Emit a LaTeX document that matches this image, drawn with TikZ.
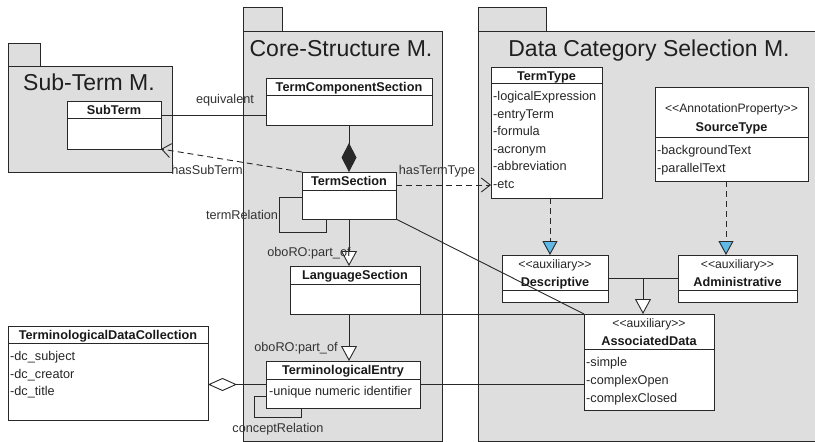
\documentclass[tikz,border=0pt]{standalone}
\usepackage{fontspec}
\setmainfont{Liberation Sans}
\usetikzlibrary{arrows.meta,calc}
\definecolor{pkgfill}{RGB}{222,222,222}
\definecolor{edgec}{RGB}{40,40,40}
\definecolor{realblue}{RGB}{95,185,230}
\newcommand\umlcls[6]{%
  \node[cls,minimum width=#4pt,minimum height=#5pt] (#1) at (#2,#3) {};
  \draw[clsline] ([yshift=-#6pt]#1.north west) -- ([yshift=-#6pt]#1.north east);}
\newcommand\umlpkg[5]{%
  \node[pkg,minimum width=#4pt,minimum height=#5pt] (#1) at (#2,#3) {};}
\tikzset{
  pkg/.style={draw=edgec,fill=pkgfill,line width=0.9pt,anchor=north west,inner sep=0pt,outer sep=0pt},
  cls/.style={draw=edgec,fill=white,line width=0.9pt,anchor=north west,inner sep=0pt,outer sep=0pt},
  clsline/.style={draw=edgec,line width=0.9pt},
  ptitle/.style={font=\fontsize{23}{26}\selectfont,inner sep=0pt,text=black!88,text height=16.5pt,text depth=0pt},
  txt/.style={inner sep=0pt,text height=9.2pt,text depth=0pt},
  bname/.style={txt,font=\fontsize{12.7}{15}\selectfont\bfseries,text=black!90},
  stereo/.style={txt,font=\fontsize{12.2}{15}\selectfont,text=black!85},
  attr/.style={txt,font=\fontsize{12.7}{15}\selectfont,anchor=west,text=black!85},
  lbl/.style={txt,font=\fontsize{12.7}{15}\selectfont,text=black!80},
  conn/.style={draw=edgec,line width=0.9pt},
  dep/.style={conn,dash pattern=on 6pt off 4pt},
  vhead/.style={-{Straight Barb[length=9pt,width=14pt,line width=0.9pt]}},
  trihead/.style={-{Triangle[open,fill=white,length=15pt,width=16pt,line width=0.9pt]}},
  realhead/.style={-{Triangle[fill=realblue,length=14pt,width=15pt,line width=0.9pt]}},
}
\begin{document}
\begin{tikzpicture}[x=1pt,y=-1pt]
\path[use as bounding box] (0,0) rectangle (815,442);
\clip (0,0) rectangle (815,442);
\fill[white] (0,0) rectangle (815,442);

% packages
\umlpkg{subTab}{8}{43}{32}{23}
\umlpkg{subPkg}{8}{66}{164}{106}
\umlpkg{coreTab}{243}{7}{39}{24}
\umlpkg{corePkg}{243}{31}{199}{410}
\umlpkg{dcsTab}{478}{7}{68}{24}
\umlpkg{dcsPkg}{478}{31}{345}{410}
\node[ptitle] (tSub) at (89,82) {Sub-Term M.};
\node[ptitle] (tCore) at (341,48) {Core-Structure M.};
\node[ptitle] (tDcs) at (649,48) {Data Category Selection M.};

% classes
\umlcls{ST}{67}{101}{94}{48}{17}
\node[bname] (nST) at (114,110) {SubTerm};

\umlcls{TCS}{266}{78}{166}{47}{17}
\node[bname] (nTCS) at (349,87) {TermComponentSection};

\umlcls{TS}{302}{172}{94}{47}{18}
\node[bname] (nTS) at (349,181) {TermSection};

\umlcls{LS}{290}{266}{130}{48}{18}
\node[bname] (nLS) at (355,275) {LanguageSection};

\umlcls{TE}{266}{361}{154}{47}{18}
\node[bname] (nTE) at (343,370) {TerminologicalEntry};
\node[attr] (aTE) at (269,391) {-unique numeric identifier};

\umlcls{TDC}{8}{326}{200}{94}{17}
\node[bname] (nTDC) at (108,335) {TerminologicalDataCollection};
\node[attr] (aTDC1) at (10,356) {-dc\_subject};
\node[attr] (aTDC2) at (10,373.5) {-dc\_creator};
\node[attr] (aTDC3) at (10,391) {-dc\_title};

\umlcls{TT}{491}{67}{111}{131}{16}
\node[bname] (nTT) at (546.5,76) {TermType};
\node[attr] (aTT1) at (493,96) {-logicalExpression};
\node[attr] (aTT2) at (493,113.5) {-entryTerm};
\node[attr] (aTT3) at (493,131) {-formula};
\node[attr] (aTT4) at (493,148.5) {-acronym};
\node[attr] (aTT5) at (493,166) {-abbreviation};
\node[attr] (aTT6) at (493,183.5) {-etc};

\umlcls{SRC}{655}{87}{153}{94}{50}
\node[stereo] (sSRC) at (731.5,108) {<{}<AnnotationProperty>{}>};
\node[bname] (nSRC) at (731.5,127) {SourceType};
\node[attr] (aSRC1) at (657,150) {-backgroundText};
\node[attr] (aSRC2) at (657,167.5) {-parallelText};

\umlcls{DESC}{502}{255}{106}{47}{35}
\node[stereo] (sDESC) at (555,264) {<{}<auxiliary>{}>};
\node[bname] (nDESC) at (555,282) {Descriptive};

\umlcls{ADM}{678}{255}{119}{47}{35}
\node[stereo] (sADM) at (737.5,264) {<{}<auxiliary>{}>};
\node[bname] (nADM) at (737.5,282) {Administrative};

\umlcls{AD}{584}{314}{130}{96}{35}
\node[stereo] (sAD) at (649,323) {<{}<auxiliary>{}>};
\node[bname] (nAD) at (649,341) {AssociatedData};
\node[attr] (aAD1) at (586,362) {-simple};
\node[attr] (aAD2) at (586,380) {-complexOpen};
\node[attr] (aAD3) at (586,397.5) {-complexClosed};

% connectors
\coordinate (eqA) at ([yshift=-14pt]ST.north east);
\draw[conn] (eqA) -- (eqA -| TCS.west);
\node[lbl] (lEq) at (225,99) {equivalent};

\draw[dep,vhead] (TS.north west) -- (ST.south east);
\node[lbl] (lSub) at (207,170) {hasSubTerm};

\coordinate (htA) at ([yshift=-13pt]TS.north east);
\draw[dep,vhead] (htA) -- (htA -| TT.west);
\node[lbl] (lHt) at (437,170) {hasTermType};

\draw[conn,-{Diamond[length=29pt,width=15pt]}] (TCS.south) -- (TS.north);

\draw[conn] ([yshift=-25pt]TS.north west) -- ++(-23,0) -- ++(0,35) -| ([xshift=24pt]TS.south west);
\node[lbl] (lTr) at (242,215) {termRelation};

\draw[conn] (TS.south east) -- (AD.north west);

\draw[conn,trihead] (TS.south) -- (TS.south |- LS.north);
\node[lbl] (lP1) at (309,252) {oboRO:part\_of};

\coordinate (p2) at ([xshift=59pt]LS.south west);
\draw[conn,trihead] (p2) -- (p2 |- TE.north);
\node[lbl] (lP2) at (296,347) {oboRO:part\_of};

\draw[conn] (LS.south east) -- (AD.north west);
\draw[conn] (TE.east) -- (TE.east -| AD.west);

\draw[conn] ([yshift=-35pt]TE.north west) -- ++(-12,0) -- ++(0,21) -| ([xshift=35pt]TE.south west);
\node[lbl] (lCr) at (278,428) {conceptRelation};

\draw[conn,{Diamond[open,fill=white,length=29pt,width=13pt,line width=0.9pt]}-] (TE.west -| TDC.east) -- (TE.west);

\coordinate (r1) at ([xshift=48pt]DESC.north west);
\draw[dep,realhead] (r1 |- TT.south) -- (r1);
\coordinate (r2) at ([xshift=48pt]ADM.north west);
\draw[dep,realhead] (r2 |- SRC.south) -- (r2);

\draw[conn] (DESC.east) -- (ADM.west);
\coordinate (gj) at ($(DESC.east)!0.5!(ADM.west)$);
\draw[conn,trihead] (gj) -- (gj |- AD.north);
\end{tikzpicture}
\end{document}
